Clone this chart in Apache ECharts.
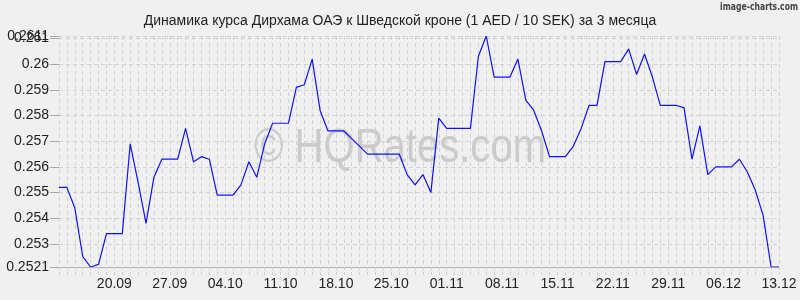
<!DOCTYPE html>
<html>
<head>
<meta charset="utf-8">
<script src="https://cdn.jsdelivr.net/npm/echarts@6/dist/echarts.min.js"></script>
<style>
html,body{margin:0;padding:0;background:#f0f0f0;}
#chart{width:800px;height:300px;}
</style>
</head>
<body>
<div id="chart"></div>
<script>
const titleText = 'Динамика курса Дирхама ОАЭ к Шведской кроне (1 AED / 10 SEK) за 3 месяца';
const categories = [
 '13.09','14.09','15.09','16.09','17.09','18.09','19.09','20.09','21.09','22.09','23.09','24.09','25.09','26.09','27.09','28.09','29.09','30.09',
 '01.10','02.10','03.10','04.10','05.10','06.10','07.10','08.10','09.10','10.10','11.10','12.10','13.10','14.10','15.10','16.10','17.10','18.10','19.10','20.10','21.10','22.10','23.10','24.10','25.10','26.10','27.10','28.10','29.10','30.10','31.10',
 '01.11','02.11','03.11','04.11','05.11','06.11','07.11','08.11','09.11','10.11','11.11','12.11','13.11','14.11','15.11','16.11','17.11','18.11','19.11','20.11','21.11','22.11','23.11','24.11','25.11','26.11','27.11','28.11','29.11','30.11',
 '01.12','02.12','03.12','04.12','05.12','06.12','07.12','08.12','09.12','10.12','11.12','12.12','13.12'
];
const rates = [
 0.2552,0.2552,0.2544,0.2525,0.2521,0.2522,0.2534,0.2534,0.2534,0.2569,
 0.2554,0.2538,0.2556,0.2563,0.2563,0.2563,0.2575,0.2562,0.2564,0.2563,
 0.2549,0.2549,0.2549,0.2553,0.2562,0.2556,0.2569,0.2577,0.2577,0.2577,
 0.2591,0.2592,0.2602,0.2582,0.2574,0.2574,0.2574,0.2571,0.2568,0.2565,
 0.2565,0.2565,0.2565,0.2565,0.2557,0.2553,0.2557,0.2550,0.2579,0.2575,
 0.2575,0.2575,0.2575,0.2603,0.2611,0.2595,0.2595,0.2595,0.2602,0.2586,
 0.2582,0.2574,0.2564,0.2564,0.2564,0.2568,0.2575,0.2584,0.2584,0.2601,
 0.2601,0.2601,0.2606,0.2596,0.2604,0.2595,0.2584,0.2584,0.2584,0.2583,
 0.2563,0.2576,0.2557,0.2560,0.2560,0.2560,0.2563,0.2558,0.2551,0.2541,
 0.2521,0.2521
];
const yTicks = [0.2521,0.253,0.254,0.255,0.256,0.257,0.258,0.259,0.26,0.2611];
const yTicksOverlap = [0.261];
const yMin = 0.2521, yMax = 0.2611;

const chart = echarts.init(document.getElementById('chart'), null, {renderer:'canvas'});
const font = 'Liberation Sans, Arial, sans-serif';
const yLabelStyle = {fontFamily: font, fontSize: 14, color: '#222', margin: 10};
chart.setOption({
  backgroundColor: '#f0f0f0',
  animation: false,
  title: {
    text: titleText, left: 'center', top: 9,
    textStyle: {fontFamily: font, fontSize: 14, fontWeight: 'normal', color: '#222'}
  },
  graphic: [
    {type:'text', x: 798, y: 2, scaleX: 0.7, z: 10,
     style:{text:'image-charts.com', align:'right', verticalAlign:'top', fontFamily:'DejaVu Sans, sans-serif', fontSize: 11, fontWeight:'bold', fill:'#444'}},
    {type:'text', x: 254, y: 125, scaleX: 0.834, z: 0,
     style:{text:'© HQRates.com', align:'left', verticalAlign:'top', fontFamily: font, fontSize: 48, fill:'#cacaca'}}
  ],
  grid: {left: 59, right: 21, top: 36, bottom: 33, containLabel: false},
  xAxis: {
    type: 'category', data: categories, boundaryGap: false,
    axisLine: {show: true, lineStyle: {color: '#b4b4b4', width: 1}},
    axisTick: {show: true, interval: 0, length: 8, lineStyle: {color: '#cfcfcf', type: [3,2]}},
    axisLabel: {
      interval: (idx) => idx > 0 && idx % 7 === 0,
      fontFamily: font, fontSize: 14, color: '#222', margin: 10
    },
    splitLine: {show: true, interval: 0, lineStyle: {color: '#d2d2d2', type: [4,3], width: 1}}
  },
  yAxis: [{
    type: 'value', min: yMin, max: yMax, position: 'left',
    axisLine: {show: false},
    axisTick: {show: true, customValues: yTicks.concat(yTicksOverlap), length: 9, lineStyle: {color: '#a8a8a8'}},
    axisLabel: Object.assign({customValues: yTicks, showMaxLabel: true, showMinLabel: true, hideOverlap: false,
      formatter: (v) => String(v)}, yLabelStyle),
    splitLine: {show: true, lineStyle: {color: '#d2d2d2', type: [4,3], width: 1}}
  }, {
    type: 'value', min: yMin, max: yMax, position: 'left', offset: 0,
    axisLine: {show: false}, axisTick: {show: false}, splitLine: {show: false},
    axisLabel: Object.assign({customValues: yTicksOverlap, showMaxLabel: true, showMinLabel: true,
      formatter: (v) => String(v)}, yLabelStyle)
  }],
  series: [{
    type: 'line', data: rates, symbol: 'none', z: 5, yAxisIndex: 0,
    lineStyle: {color: '#1010ff', width: 1.2}
  }]
});
</script>
</body>
</html>
